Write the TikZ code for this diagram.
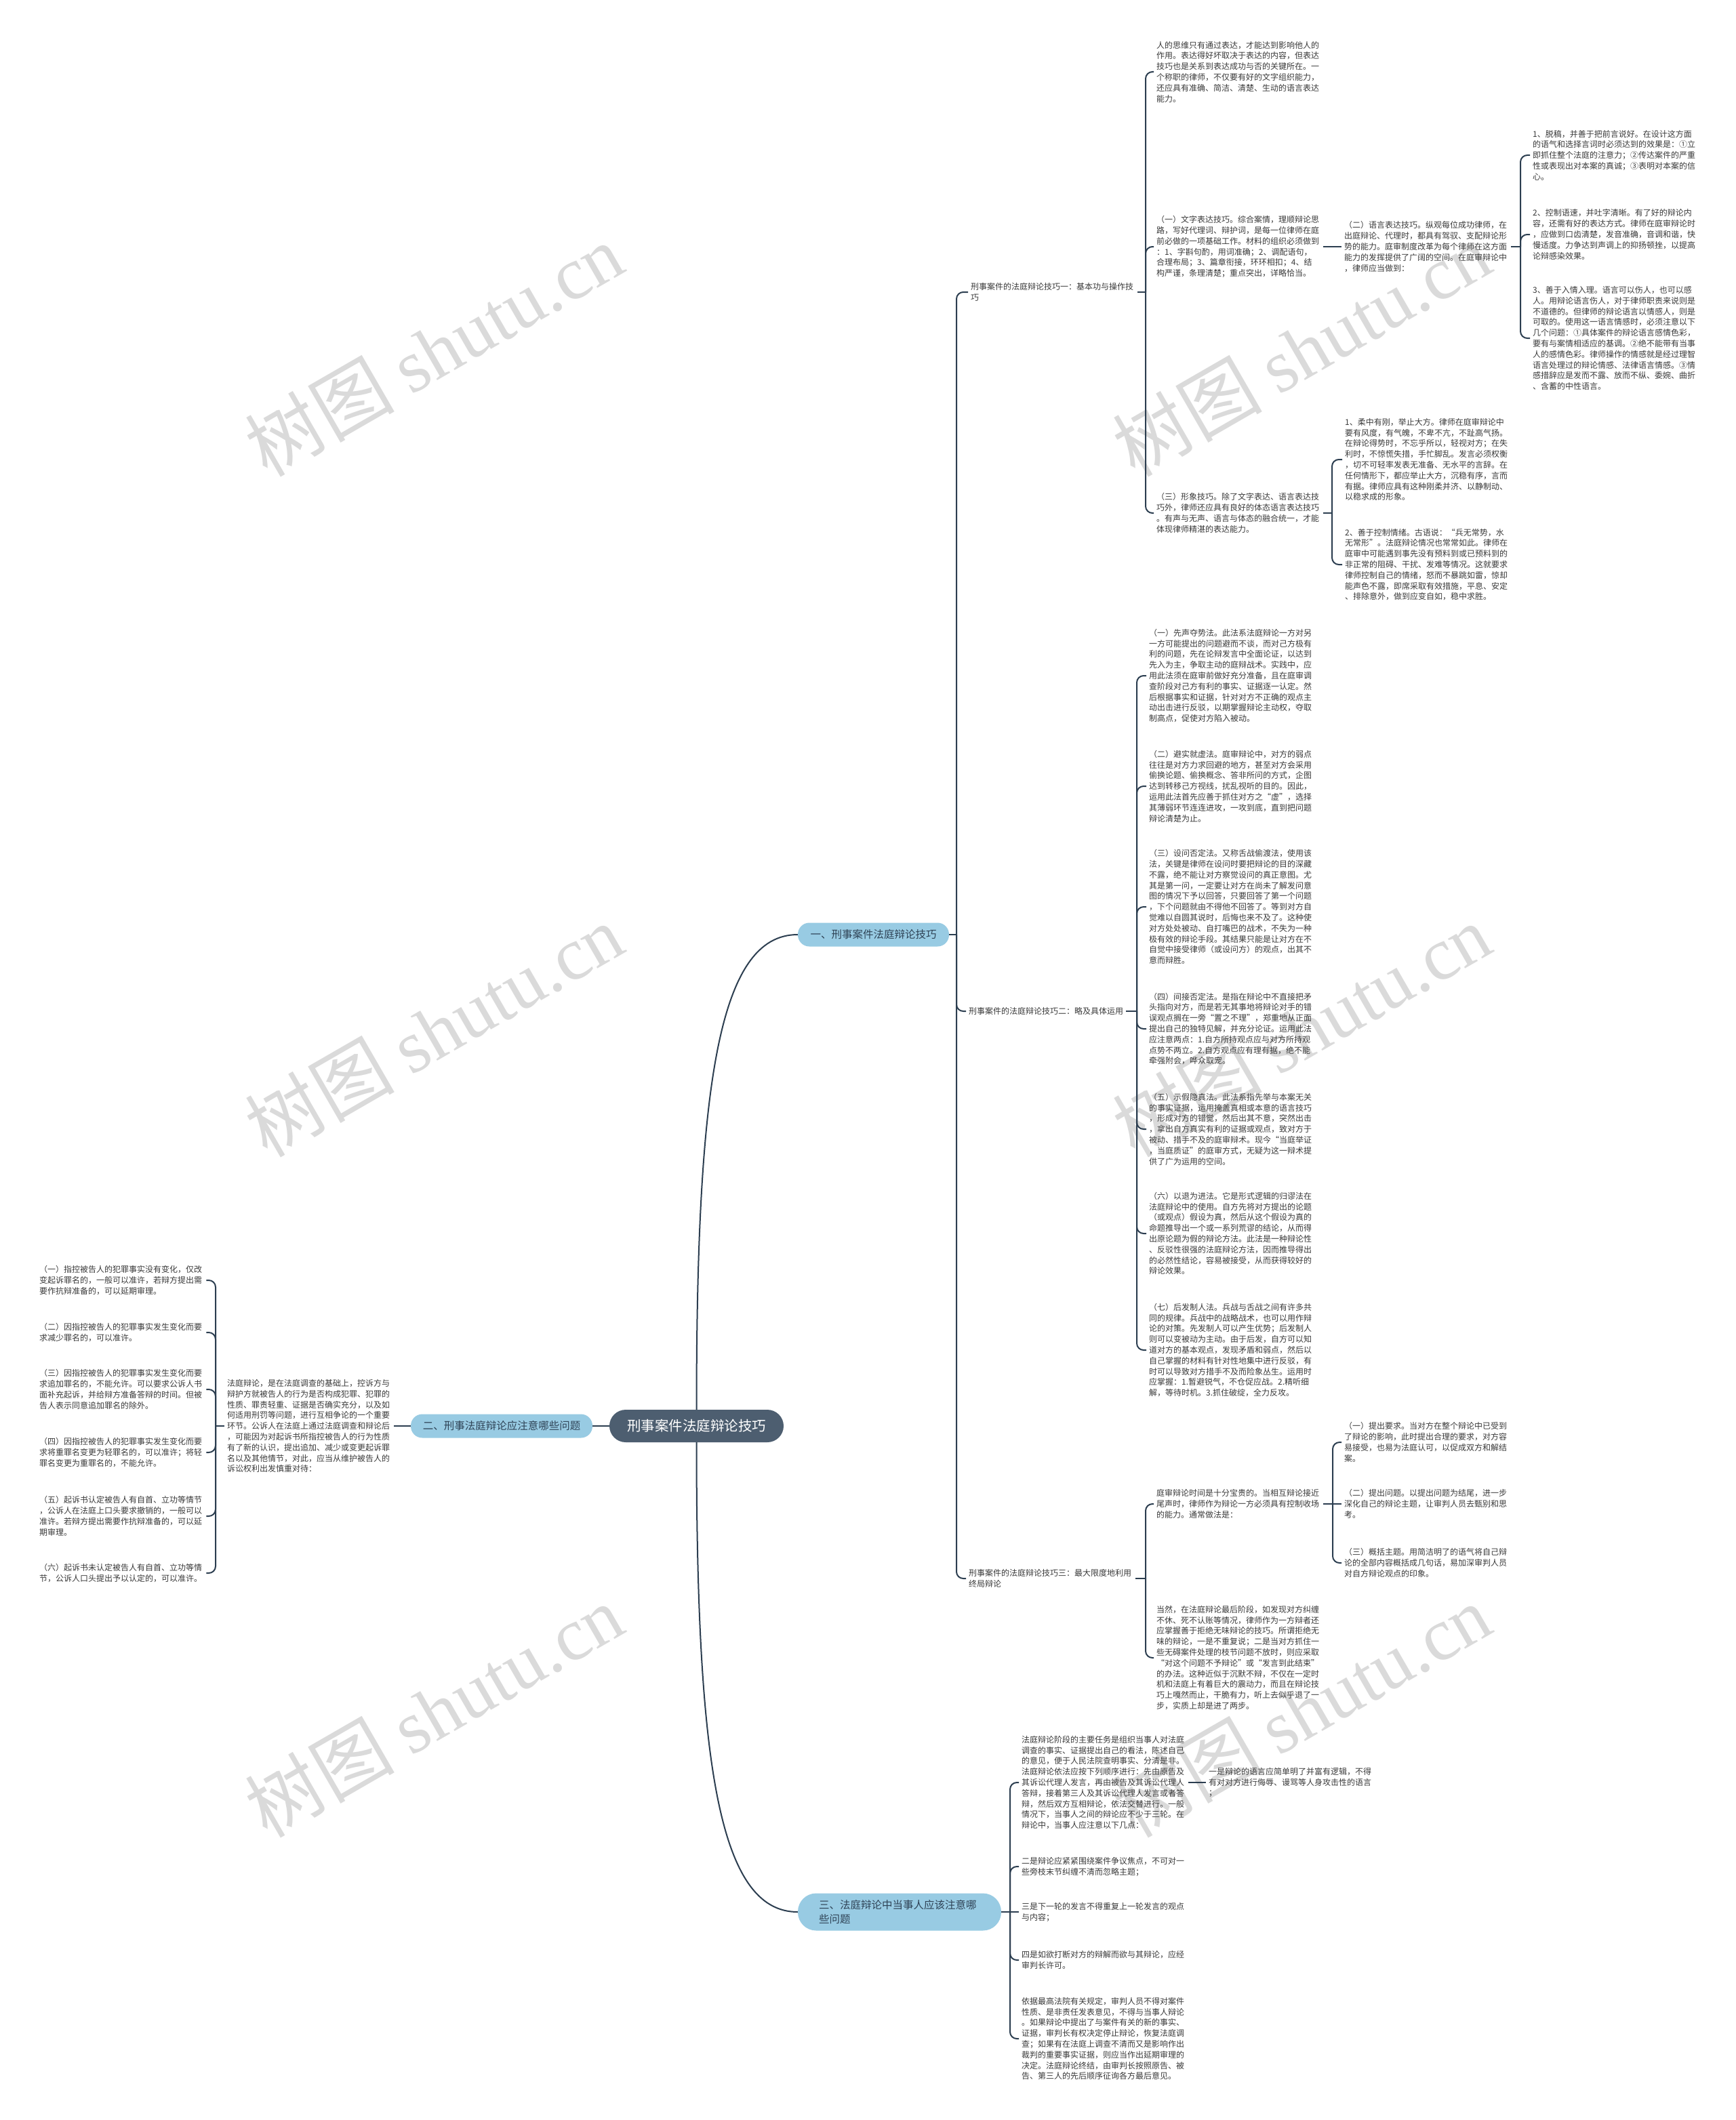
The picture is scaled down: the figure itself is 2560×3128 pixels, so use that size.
\documentclass[tikz,border=0pt]{standalone}
\usepackage{fontspec}
\setmainfont{Noto Sans CJK SC}
\newfontfamily\wmlatin{Liberation Serif}
\definecolor{rootfill}{HTML}{4D5E70}
\definecolor{brfill}{HTML}{98CBE3}
\definecolor{brtext}{HTML}{2F4356}
\definecolor{linec}{HTML}{2C3E50}
\definecolor{textc}{HTML}{3A3A3A}
\definecolor{wmc}{HTML}{DADADA}
\begin{document}
\begin{tikzpicture}[x=1pt,y=-1pt,
  txt/.style={anchor=west,inner sep=0pt,text width=242pt,align=left,font=\fontsize{12}{15.8}\selectfont,text=textc},
  labone/.style={anchor=west,inner sep=0pt,font=\fontsize{12}{15.8}\selectfont,text=textc},
  conn/.style={draw=linec,line width=2pt,rounded corners=10pt},
  kid/.style={conn,shorten >=4pt},
  par/.style={conn,shorten <=4pt},
  branch/.style={fill=brfill,text=brtext,rounded corners=17pt,inner sep=0pt,font=\fontsize{15.5}{21}\selectfont},
  wm/.style={text=wmc,rotate=30,inner sep=0pt,font=\fontsize{110}{110}\selectfont}
]
\useasboundingbox[fill=white] (0,0) rectangle (2560,3128);

% watermarks
\foreach \wx/\wy [count=\i] in {640/516,1920/516,640/1520,1920/1520,640/2524,1920/2524}
  \node[wm] (wm\i) at (\wx,\wy) {树图 {\wmlatin shutu.cn}};

% root and main branches
\node[fill=rootfill,text=white,rounded corners=24pt,minimum width=257pt,minimum height=48pt,inner sep=0pt,font=\fontsize{20.5}{24}\selectfont] (root) at (1027.5,2104) {刑事案件法庭辩论技巧};
\node[branch,minimum width=223pt,minimum height=35pt] (bA) at (1288.5,1379) {一、刑事案件法庭辩论技巧};
\node[branch,minimum width=268pt,minimum height=35pt] (bB) at (740,2104) {二、刑事法庭辩论应注意哪些问题};
\node[branch,rounded corners=27pt,minimum width=300pt,minimum height=55pt,text width=238pt,align=left] (bC) at (1327,2821) {三、法庭辩论中当事人应该注意哪\\些问题};

% branch 1 labels
\node[txt] (lab1) at (1432,431) {刑事案件的法庭辩论技巧一：基本功与操作技\\巧};
\node[labone] (lab2) at (1429,1492) {刑事案件的法庭辩论技巧二：略及具体运用};
\node[txt] (lab3) at (1429,2329) {刑事案件的法庭辩论技巧三：最大限度地利用\\终局辩论};

% section 1
\node[txt] (tA) at (1706,106) {人的思维只有通过表达，才能达到影响他人的\\作用。表达得好坏取决于表达的内容，但表达\\技巧也是关系到表达成功与否的关键所在。一\\个称职的律师，不仅要有好的文字组织能力，\\还应具有准确、简洁、清楚、生动的语言表达\\能力。};
\node[txt] (tB) at (1706,364) {（一）文字表达技巧。综合案情，理顺辩论思\\路，写好代理词、辩护词，是每一位律师在庭\\前必做的一项基础工作。材料的组织必须做到\\：1、字斟句酌，用词准确；2、调配语句，\\合理布局；3、篇章衔接，环环相扣；4、结\\构严谨，条理清楚；重点突出，详略恰当。};
\node[txt] (tC) at (1983,364) {（二）语言表达技巧。纵观每位成功律师，在\\出庭辩论、代理时，都具有驾驭、支配辩论形\\势的能力。庭审制度改革为每个律师在这方面\\能力的发挥提供了广阔的空间。在庭审辩论中\\，律师应当做到：};
\node[txt] (tC1) at (2261,229) {1、脱稿，并善于把前言说好。在设计这方面\\的语气和选择言词时必须达到的效果是：①立\\即抓住整个法庭的注意力；②传达案件的严重\\性或表现出对本案的真诚；③表明对本案的信\\心。};
\node[txt] (tC2) at (2261,346) {2、控制语速，并吐字清晰。有了好的辩论内\\容，还需有好的表达方式。律师在庭审辩论时\\，应做到口齿清楚，发音准确，音调和谐，快\\慢适度。力争达到声调上的抑扬顿挫，以提高\\论辩感染效果。};
\node[txt] (tC3) at (2261,499) {3、善于入情入理。语言可以伤人，也可以感\\人。用辩论语言伤人，对于律师职责来说则是\\不道德的。但律师的辩论语言以情感人，则是\\可取的。使用这一语言情感时，必须注意以下\\几个问题：①具体案件的辩论语言感情色彩，\\要有与案情相适应的基调。②绝不能带有当事\\人的感情色彩。律师操作的情感就是经过理智\\语言处理过的辩论情感、法律语言情感。③情\\感措辞应是发而不露、放而不纵、委婉、曲折\\、含蓄的中性语言。};
\node[txt] (tD) at (1706,757) {（三）形象技巧。除了文字表达、语言表达技\\巧外，律师还应具有良好的体态语言表达技巧\\。有声与无声、语言与体态的融合统一，才能\\体现律师精湛的表达能力。};
\node[txt] (tD1) at (1984,678) {1、柔中有刚，举止大方。律师在庭审辩论中\\要有风度，有气魄，不卑不亢，不趾高气扬。\\在辩论得势时，不忘乎所以，轻视对方；在失\\利时，不惊慌失措，手忙脚乱。发言必须权衡\\，切不可轻率发表无准备、无水平的言辞。在\\任何情形下，都应举止大方，沉稳有序，言而\\有据。律师应具有这种刚柔并济、以静制动、\\以稳求成的形象。};
\node[txt] (tD2) at (1984,833) {2、善于控制情绪。古语说：“兵无常势，水\\无常形”。法庭辩论情况也常常如此。律师在\\庭审中可能遇到事先没有预料到或已预料到的\\非正常的阻碍、干扰、发难等情况。这就要求\\律师控制自己的情绪，怒而不暴跳如雷，惊却\\能声色不露，即席采取有效措施，平息、安定\\、排除意外，做到应变自如，稳中求胜。};

% section 2
\node[txt] (tE1) at (1695,997) {（一）先声夺势法。此法系法庭辩论一方对另\\一方可能提出的问题避而不谈，而对己方极有\\利的问题，先在论辩发言中全面论证，以达到\\先入为主，争取主动的庭辩战术。实践中，应\\用此法须在庭审前做好充分准备，且在庭审调\\查阶段对己方有利的事实、证据逐一认定。然\\后根据事实和证据，针对对方不正确的观点主\\动出击进行反驳，以期掌握辩论主动权，夺取\\制高点，促使对方陷入被动。};
\node[txt] (tE2) at (1695,1160) {（二）避实就虚法。庭审辩论中，对方的弱点\\往往是对方力求回避的地方，甚至对方会采用\\偷换论题、偷换概念、答非所问的方式，企图\\达到转移己方视线，扰乱视听的目的。因此，\\运用此法首先应善于抓住对方之“虚”，选择\\其薄弱环节连连进攻，一攻到底，直到把问题\\辩论清楚为止。};
\node[txt] (tE3) at (1695,1338) {（三）设问否定法。又称舌战偷渡法，使用该\\法，关键是律师在设问时要把辩论的目的深藏\\不露，绝不能让对方察觉设问的真正意图。尤\\其是第一问，一定要让对方在尚未了解发问意\\图的情况下予以回答，只要回答了第一个问题\\，下个问题就由不得他不回答了。等到对方自\\觉难以自圆其说时，后悔也来不及了。这种使\\对方处处被动、自打嘴巴的战术，不失为一种\\极有效的辩论手段。其结果只能是让对方在不\\自觉中接受律师（或设问方）的观点，出其不\\意而辩胜。};
\node[txt] (tE4) at (1695,1518) {（四）间接否定法。是指在辩论中不直接把矛\\头指向对方，而是若无其事地将辩论对手的错\\误观点搁在一旁“置之不理”，郑重地从正面\\提出自己的独特见解，并充分论证。运用此法\\应注意两点：1.自方所持观点应与对方所持观\\点势不两立。2.自方观点应有理有据，绝不能\\牵强附会，哗众取宠。};
\node[txt] (tE5) at (1695,1666) {（五）示假隐真法。此法系指先举与本案无关\\的事实证据，运用掩盖真相或本意的语言技巧\\，形成对方的错觉，然后出其不意，突然出击\\，拿出自方真实有利的证据或观点，致对方于\\被动、措手不及的庭审辩术。现今“当庭举证\\，当庭质证”的庭审方式，无疑为这一辩术提\\供了广为运用的空间。};
\node[txt] (tE6) at (1695,1820) {（六）以退为进法。它是形式逻辑的归谬法在\\法庭辩论中的使用。自方先将对方提出的论题\\（或观点）假设为真，然后从这个假设为真的\\命题推导出一个或一系列荒谬的结论，从而得\\出原论题为假的辩论方法。此法是一种辩论性\\、反驳性很强的法庭辩论方法，因而推导得出\\的必然性结论，容易被接受，从而获得较好的\\辩论效果。};
\node[txt] (tE7) at (1695,1992) {（七）后发制人法。兵战与舌战之间有许多共\\同的规律。兵战中的战略战术，也可以用作辩\\论的对策。先发制人可以产生优势；后发制人\\则可以变被动为主动。由于后发，自方可以知\\道对方的基本观点，发现矛盾和弱点，然后以\\自己掌握的材料有针对性地集中进行反驳，有\\时可以导致对方措手不及而险象丛生。运用时\\应掌握：1.暂避锐气，不仓促应战。2.精听细\\解，等待时机。3.抓住破绽，全力反攻。};

% section 3
\node[txt] (tF1) at (1706,2219) {庭审辩论时间是十分宝贵的。当相互辩论接近\\尾声时，律师作为辩论一方必须具有控制收场\\的能力。通常做法是：};
\node[txt] (tG1) at (1983,2128) {（一）提出要求。当对方在整个辩论中已受到\\了辩论的影响，此时提出合理的要求，对方容\\易接受，也易为法庭认可，以促成双方和解结\\案。};
\node[txt] (tG2) at (1983,2219) {（二）提出问题。以提出问题为结尾，进一步\\深化自己的辩论主题，让审判人员去甄别和思\\考。};
\node[txt] (tG3) at (1983,2306) {（三）概括主题。用简洁明了的语气将自己辩\\论的全部内容概括成几句话，易加深审判人员\\对自方辩论观点的印象。};
\node[txt] (tF2) at (1706,2446) {当然，在法庭辩论最后阶段，如发现对方纠缠\\不休、死不认账等情况，律师作为一方辩者还\\应掌握善于拒绝无味辩论的技巧。所谓拒绝无\\味的辩论，一是不重复说；二是当对方抓住一\\些无碍案件处理的枝节问题不放时，则应采取\\“对这个问题不予辩论”或“发言到此结束”\\的办法。这种近似于沉默不辩，不仅在一定时\\机和法庭上有着巨大的震动力，而且在辩论技\\巧上嘎然而止，干脆有力，听上去似乎退了一\\步，实质上却是进了两步。};

% branch 2 texts
\node[txt] (tL0) at (335,2104) {法庭辩论，是在法庭调查的基础上，控诉方与\\辩护方就被告人的行为是否构成犯罪、犯罪的\\性质、罪责轻重、证据是否确实充分，以及如\\何适用刑罚等问题，进行互相争论的一个重要\\环节。公诉人在法庭上通过法庭调查和辩论后\\，可能因为对起诉书所指控被告人的行为性质\\有了新的认识，提出追加、减少或变更起诉罪\\名以及其他情节，对此，应当从维护被告人的\\诉讼权利出发慎重对待：};
\node[txt] (tL1) at (58,1889) {（一）指控被告人的犯罪事实没有变化，仅改\\变起诉罪名的，一般可以准许，若辩方提出需\\要作抗辩准备的，可以延期审理。};
\node[txt] (tL2) at (58,1966) {（二）因指控被告人的犯罪事实发生变化而要\\求减少罪名的，可以准许。};
\node[txt] (tL3) at (58,2050) {（三）因指控被告人的犯罪事实发生变化而要\\求追加罪名的，不能允许。可以要求公诉人书\\面补充起诉，并给辩方准备答辩的时间。但被\\告人表示同意追加罪名的除外。};
\node[txt] (tL4) at (58,2143) {（四）因指控被告人的犯罪事实发生变化而要\\求将重罪名变更为轻罪名的，可以准许；将轻\\罪名变更为重罪名的，不能允许。};
\node[txt] (tL5) at (58,2237) {（五）起诉书认定被告人有自首、立功等情节\\，公诉人在法庭上口头要求撤销的，一般可以\\准许。若辩方提出需要作抗辩准备的，可以延\\期审理。};
\node[txt] (tL6) at (58,2321) {（六）起诉书未认定被告人有自首、立功等情\\节，公诉人口头提出予以认定的，可以准许。};

% branch 3 texts
\node[txt] (tP1) at (1507,2630) {法庭辩论阶段的主要任务是组织当事人对法庭\\调查的事实、证据提出自己的看法，陈述自己\\的意见，便于人民法院查明事实、分清是非。\\法庭辩论依法应按下列顺序进行：先由原告及\\其诉讼代理人发言，再由被告及其诉讼代理人\\答辩，接着第三人及其诉讼代理人发言或者答\\辩，然后双方互相辩论，依法交替进行。一般\\情况下，当事人之间的辩论应不少于三轮。在\\辩论中，当事人应注意以下几点：};
\node[txt] (tQ1) at (1783,2630) {一是辩论的语言应简单明了并富有逻辑，不得\\有对对方进行侮辱、谩骂等人身攻击性的语言\\；};
\node[txt] (tP2) at (1507,2754) {二是辩论应紧紧围绕案件争议焦点，不可对一\\些旁枝末节纠缠不清而忽略主题；};
\node[txt] (tP3) at (1507,2821) {三是下一轮的发言不得重复上一轮发言的观点\\与内容；};
\node[txt] (tP4) at (1507,2892) {四是如欲打断对方的辩解而欲与其辩论，应经\\审判长许可。};
\node[txt] (tP5) at (1507,3008) {依据最高法院有关规定，审判人员不得对案件\\性质、是非责任发表意见，不得与当事人辩论\\。如果辩论中提出了与案件有关的新的事实、\\证据，审判长有权决定停止辩论，恢复法庭调\\查；如果有在法庭上调查不清而又是影响作出\\裁判的重要事实证据，则应当作出延期审理的\\决定。法庭辩论终结，由审判长按照原告、被\\告、第三人的先后顺序征询各方最后意见。};

% ---------- connectors ----------
\draw[conn] (root.north) .. controls (1027.5,1600) and (1060,1379) .. (bA.west);
\draw[conn] (root.south) .. controls (1027.5,2600) and (1060,2821) .. (bC.west);
\draw[conn] (root.west) -- (bB.east);

% branch 1
\coordinate (jA) at (1411,1379);
\draw[conn] (bA.east) -- (jA);
\draw[kid] (jA) |- (lab1.west);
\draw[kid] (jA) |- (lab2.west);
\draw[kid] (jA) |- (lab3.west);

\coordinate (j1) at (1690,431);
\draw[par] (lab1.east) -- (j1);
\draw[kid] (j1) |- (tA.west);
\draw[kid] (j1) |- (tB.west);
\draw[kid] (j1) |- (tD.west);

\draw[par,shorten >=4pt] (tB.east) -- (tC.west);
\coordinate (jC) at (2243,364);
\draw[par] (tC.east) -- (jC);
\draw[kid] (jC) |- (tC1.west);
\draw[kid] (jC) |- (tC2.west);
\draw[kid] (jC) |- (tC3.west);

\coordinate (jD) at (1965,757);
\draw[par] (tD.east) -- (jD);
\draw[kid] (jD) |- (tD1.west);
\draw[kid] (jD) |- (tD2.west);

\coordinate (j2) at (1677,1492);
\draw[par] (lab2.east) -- (j2);
\foreach \k in {1,...,7} \draw[kid] (j2) |- (tE\k.west);

\coordinate (j3) at (1690,2329);
\draw[par] (lab3.east) -- (j3);
\draw[kid] (j3) |- (tF1.west);
\draw[kid] (j3) |- (tF2.west);

\coordinate (jF) at (1966,2219);
\draw[par] (tF1.east) -- (jF);
\draw[kid] (jF) |- (tG1.west);
\draw[kid] (jF) -- (tG2.west);
\draw[kid] (jF) |- (tG3.west);

% branch 2
\draw[conn,shorten >=4pt] (bB.west) -- (tL0.east);
\coordinate (jL) at (318,2104);
\draw[par] (tL0.west) -- (jL);
\foreach \k in {1,...,6} \draw[kid] (jL) |- (tL\k.east);

% branch 3
\coordinate (jP) at (1490,2821);
\draw[conn] (bC.east) -- (jP);
\draw[kid] (jP) |- (tP1.west);
\draw[kid] (jP) |- (tP2.west);
\draw[kid] (jP) -- (tP3.west);
\draw[kid] (jP) |- (tP4.west);
\draw[kid] (jP) |- (tP5.west);
\draw[par,shorten >=4pt] (tP1.east) -- (tQ1.west);
\end{tikzpicture}
\end{document}
